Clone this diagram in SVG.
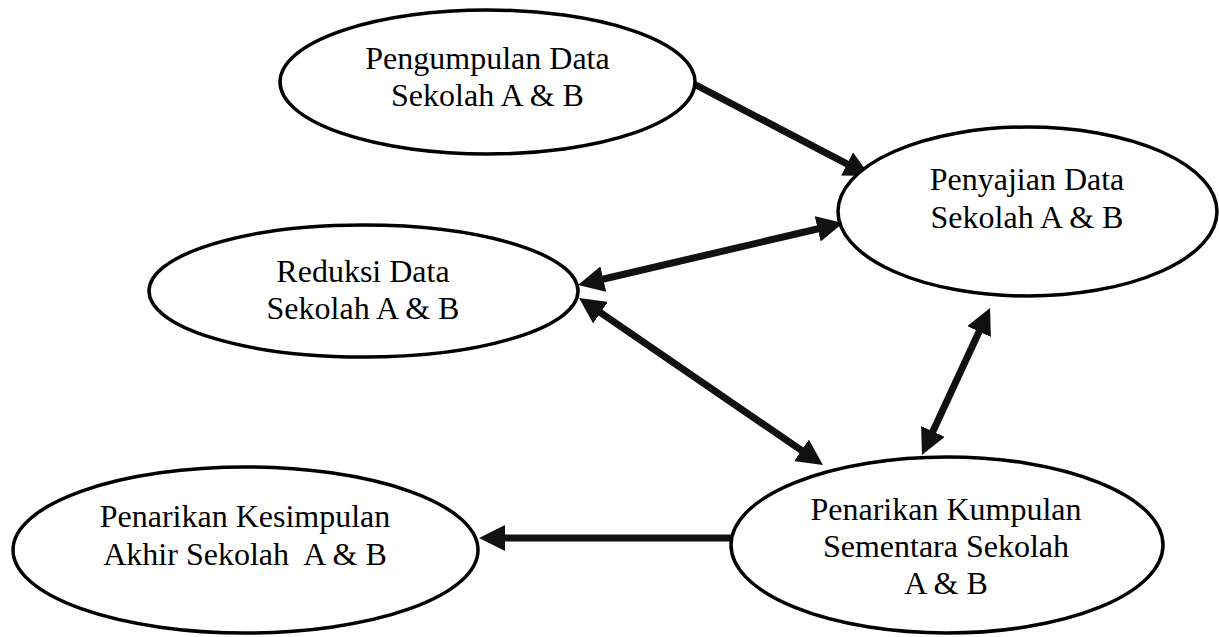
<svg xmlns="http://www.w3.org/2000/svg" width="1219" height="637" viewBox="0 0 1219 637">
<style>
.node ellipse{fill:#fff;stroke:#000;stroke-width:3.5}
.node text{font-family:"Liberation Serif","Times New Roman",serif;font-size:32px;fill:#000;text-anchor:middle;white-space:pre}
.conn line{stroke:#111;stroke-width:7;fill:none}
</style>
<defs>
<marker id="ah" viewBox="0 0 26 26" markerWidth="26" markerHeight="26" refX="15" refY="13" orient="auto-start-reverse" markerUnits="userSpaceOnUse">
<path d="M0,0 L26,13 L0,26 z" fill="#111"/>
</marker>
</defs>
<rect width="1219" height="637" fill="#fff"/>
<g id="connectors" class="conn">
<line x1="694" y1="84" x2="860.3" y2="170.9" marker-end="url(#ah)"/>
<line x1="588.7" y1="282.5" x2="832.3" y2="225.5" marker-start="url(#ah)" marker-end="url(#ah)"/>
<line x1="588.1" y1="304.2" x2="813.9" y2="458.8" marker-start="url(#ah)" marker-end="url(#ah)"/>
<line x1="985.4" y1="318.0" x2="926.6" y2="445.0" marker-start="url(#ah)" marker-end="url(#ah)"/>
<line x1="731" y1="538" x2="490" y2="538" marker-end="url(#ah)"/>
</g>
<g id="node-pengumpulan" class="node">
<ellipse cx="487.5" cy="82" rx="207.5" ry="72"/>
<text x="487.5" y="69">Pengumpulan Data</text>
<text x="487.5" y="106">Sekolah A &amp; B</text>
</g>
<g id="node-penyajian" class="node">
<ellipse cx="1027.5" cy="211.5" rx="189.5" ry="84.5"/>
<text x="1027" y="190">Penyajian Data</text>
<text x="1027" y="228">Sekolah A &amp; B</text>
</g>
<g id="node-reduksi" class="node">
<ellipse cx="363.5" cy="291" rx="214.5" ry="66"/>
<text x="363" y="282">Reduksi Data</text>
<text x="363" y="319">Sekolah A &amp; B</text>
</g>
<g id="node-kesimpulan" class="node">
<ellipse cx="245.5" cy="550" rx="232.5" ry="83"/>
<text x="245" y="527">Penarikan Kesimpulan</text>
<text x="245" y="565">Akhir Sekolah  A &amp; B</text>
</g>
<g id="node-kumpulan" class="node">
<ellipse cx="947" cy="545" rx="216" ry="88"/>
<text x="946" y="520">Penarikan Kumpulan</text>
<text x="946" y="557">Sementara Sekolah</text>
<text x="946" y="594">A &amp; B</text>
</g>
</svg>
